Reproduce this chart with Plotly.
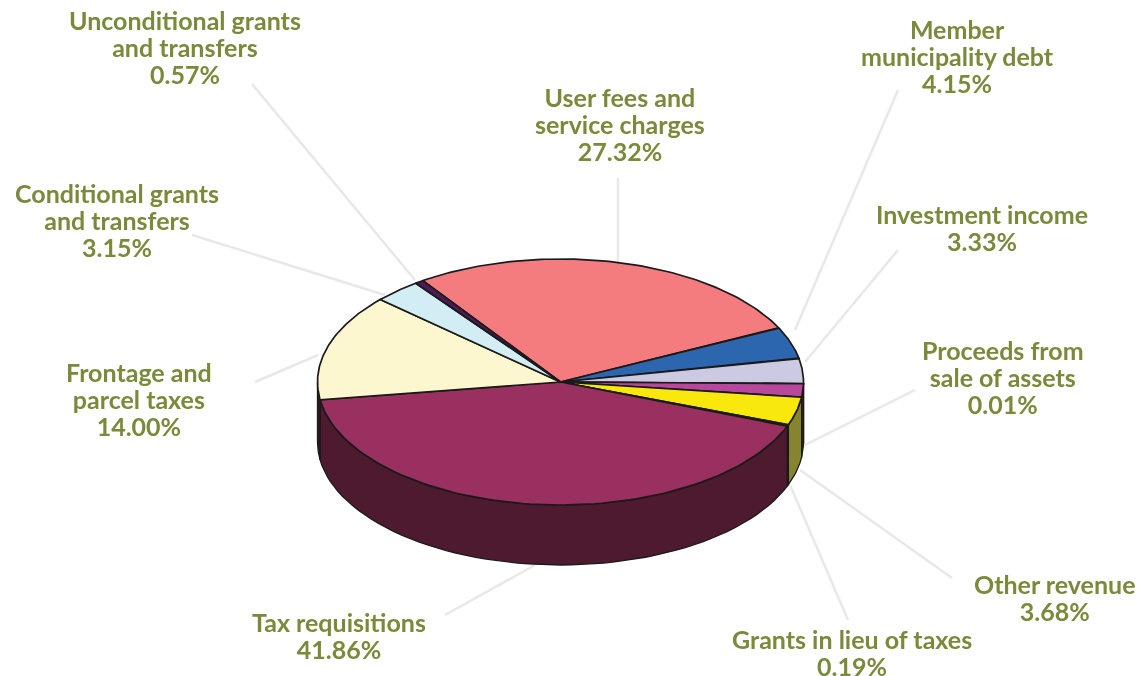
import numpy as np
import plotly.graph_objects as go

# Data, clockwise from the upper-left start of the "User fees" slice
categories = ["User fees and<br>service charges", "Member<br>municipality debt", "Investment income",
              "Proceeds from<br>sale of assets", "", "Other revenue", "Grants in lieu of taxes",
              "Tax requisitions", "Frontage and<br>parcel taxes", "Conditional grants<br>and transfers",
              "Unconditional grants<br>and transfers"]
values = [27.32, 4.15, 3.33, 0.01, 1.74, 3.68, 0.19, 41.86, 14.00, 3.15, 0.57]
top_colors = ["#f47c7f", "#2c66ae", "#ccc9e2", "#666666", "#b8489b", "#f8e80c", "#222222",
              "#9a3060", "#fcf7cf", "#d2edf4", "#4d1a55"]
side_colors = ["#7a3c3e", "#163357", "#666471", "#333333", "#5c244d", "#85852f", "#111111",
               "#4d1a30", "#3a1424", "#69767a", "#260d2a"]
# centre x and y of the first text line of every label
label_xy = [(620, 97), (957, 29), (982, 214), (1003, 350), None, (1055, 584), (852, 639),
            (339, 622), (139, 372), (117, 193), (185, 20)]
leaders = [((618, 178), (618, 262)), ((898, 90), (795, 330)), ((898, 250), (805, 362)),
           ((915, 390), (805, 445)), None, ((952, 578), (800, 470)), ((848, 620), (790, 485)),
           ((445, 615), (535, 565)), ((255, 382), (318, 355)), ((192, 235), (385, 295)),
           ((252, 84), (415, 280))]

CX, CY, RX, RY, DEPTH = 560.5, 382, 243, 123, 60
START = 124.5
LINE_STEP = 27
TEXT = "#7a8a3a"


def pt(t):
    r = np.radians(t)
    return CX + RX * np.cos(r), CY - RY * np.sin(r)


fig = go.Figure()

for seg in leaders:
    if seg:
        fig.add_trace(go.Scatter(x=[seg[0][0], seg[1][0]], y=[seg[0][1], seg[1][1]], mode="lines",
                                 line=dict(color="#e8e8e8", width=2.5), hoverinfo="skip"))

edges = START - 360 * np.cumsum([0] + values) / sum(values)

# walls: the part of every slice that lies in the front half of the ellipse
for i in range(len(values)):
    hi, lo = min(edges[i], 0), max(edges[i + 1], -180)
    if i == 8:
        lo = -180
    if hi <= lo:
        continue
    t = np.linspace(hi, lo, 60)
    x, y = pt(t)
    fig.add_trace(go.Scatter(x=np.r_[x, x[::-1], x[0]], y=np.r_[y, y[::-1] + DEPTH, y[0]], mode="lines",
                             fill="toself", fillcolor=side_colors[i],
                             line=dict(color="#1a1a1a", width=1.3), hoverinfo="skip"))

# top faces
for i in range(len(values)):
    t = np.linspace(edges[i], edges[i + 1], 90)
    x, y = pt(t)
    fig.add_trace(go.Scatter(x=np.r_[CX, x, CX], y=np.r_[CY, y, CY], mode="lines", fill="toself",
                             fillcolor=top_colors[i], line=dict(color="#1a1a1a", width=1.7),
                             hoverinfo="skip"))

for name, val, xy in zip(categories, values, label_xy):
    if xy:
        fig.add_annotation(x=xy[0], y=xy[1] - 17, text=f"{name}<br>{val:.2f}%", showarrow=False,
                           xanchor="center", yanchor="top", align="center",
                           font=dict(family="Lato", size=25, color=TEXT, weight="bold"))

fig.update_layout(width=1143, height=676, margin=dict(l=0, r=0, t=0, b=0), showlegend=False,
                  plot_bgcolor="white", paper_bgcolor="white",
                  xaxis=dict(range=[0, 1143], visible=False, fixedrange=True),
                  yaxis=dict(range=[676, 0], visible=False, fixedrange=True))
post = ("document.body.style.margin='0';"
        "document.querySelector('.plotly-graph-div').style.filter='blur(0.5px)';"
        "document.querySelectorAll('.annotation-text').forEach(function(t){"
        "t.querySelectorAll('tspan.line').forEach(function(l,i){"
        "l.setAttribute('dy',(i*%d)+'px');});});" % LINE_STEP)
fig.write_html("out.html", config=dict(displayModeBar=False), post_script=post)
